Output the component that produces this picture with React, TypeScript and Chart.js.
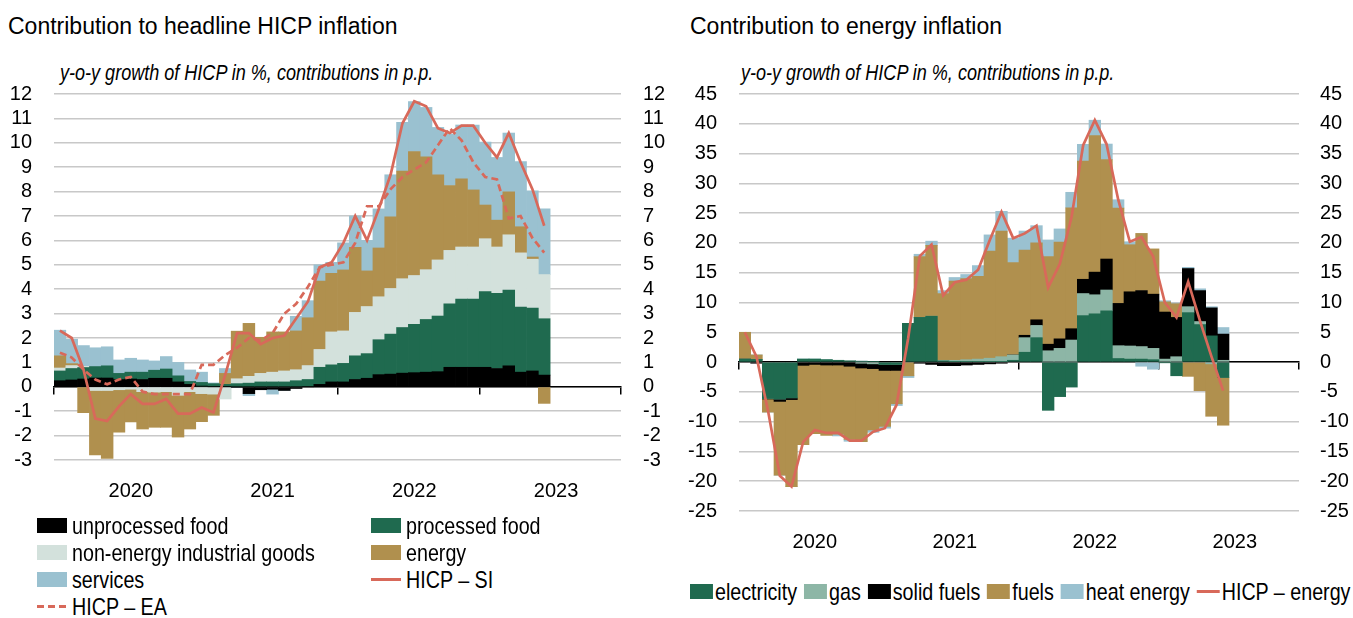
import React, { useEffect, useRef } from 'react';
import { Chart, registerables } from 'chart.js';

Chart.register(...registerables);

const REGULAR = "'Liberation Sans', Arial, Helvetica, sans-serif";
Chart.defaults.font.family = REGULAR;

// ---------- categories & tick labels ----------
const years = ['2020', '2021', '2022', '2023'];
const monthNames = ['Jan', 'Feb', 'Mar', 'Apr', 'May', 'Jun', 'Jul', 'Aug', 'Sep', 'Oct', 'Nov', 'Dec'];
const categories = years.flatMap((y) => monthNames.map((m) => `${m} ${y}`));
const yearTickLabels = years;

// ---------- left panel: contributions to headline HICP (p.p.) ----------
const unprocessedFood = [0.25, 0.28, 0.32, 0.36, 0.36, 0.3, 0.32, 0.3, 0.35, 0.35, 0.2, 0.1, 0.03, 0.0, 0.0, -0.03, -0.28, -0.12, -0.1, -0.15, -0.07, 0.0, 0.1, 0.2, 0.2, 0.3, 0.35, 0.5, 0.52, 0.56, 0.58, 0.6, 0.62, 0.8, 0.8, 0.8, 0.8, 0.75, 0.86, 0.6, 0.65, 0.48];
const processedFood = [0.4, 0.47, 0.47, 0.47, 0.5, 0.25, 0.28, 0.3, 0.33, 0.38, 0.25, 0.12, 0.15, 0.13, 0.1, 0.13, 0.15, 0.2, 0.2, 0.2, 0.25, 0.3, 0.7, 0.7, 0.76, 0.97, 1.01, 1.43, 1.64, 1.87, 1.98, 2.16, 2.28, 2.6, 2.79, 2.79, 3.1, 3.08, 3.1, 2.67, 2.58, 2.31];
const nonEnergyIndustrialGoods = [0.12, 0.12, 0.05, -0.15, -0.15, -0.12, -0.1, -0.2, -0.22, -0.2, -0.35, -0.2, -0.28, -0.3, -0.5, 0.2, 0.28, 0.35, 0.4, 0.45, 0.45, 0.57, 0.73, 1.35, 1.33, 1.78, 1.93, 1.76, 1.87, 2.0, 2.0, 2.04, 2.3, 2.19, 2.14, 2.14, 2.17, 1.9, 2.27, 2.22, 2.0, 1.81];
const energy = [0.5, 0.08, -1.06, -2.64, -2.79, -1.74, -1.34, -1.53, -1.44, -1.46, -1.71, -1.53, -1.15, -0.87, 0.45, 1.95, 2.17, 1.48, 1.65, 1.6, 1.59, 1.96, 2.8, 2.4, 2.5, 2.67, 1.46, 2.0, 2.94, 4.41, 5.08, 4.63, 3.49, 2.66, 2.79, 2.34, 1.38, 1.1, 1.76, 1.07, 0.09, -0.68];
const services = [1.05, 1.0, 0.85, 0.77, 0.78, 0.55, 0.57, 0.5, 0.38, 0.51, 0.55, 0.47, 0.42, 0.03, 0.2, 0.0, -0.08, 0.0, -0.2, 0.0, 0.6, 0.7, 0.67, 0.45, 1.11, 1.28, 1.25, 1.6, 1.72, 2.0, 2.05, 2.02, 1.94, 2.11, 2.21, 2.66, 2.58, 2.57, 2.41, 2.67, 2.71, 2.69];
const hicpSI = [2.3, 2.0, 0.7, -1.3, -1.4, -0.8, -0.3, -0.7, -0.7, -0.5, -1.1, -1.1, -0.85, -1.05, 0.5, 2.2, 2.2, 1.75, 2.0, 2.1, 2.8, 3.5, 4.9, 5.1, 5.9, 7.0, 6.0, 7.3, 8.7, 10.8, 11.7, 11.5, 10.6, 10.4, 10.7, 10.7, 10.0, 9.4, 10.4, 9.2, 8.1, 6.6];
const hicpEA = [1.4, 1.2, 0.7, 0.3, 0.1, 0.3, 0.4, -0.2, -0.3, -0.3, -0.3, -0.3, 0.9, 0.9, 1.3, 1.6, 2.0, 1.9, 2.2, 3.0, 3.4, 4.1, 4.9, 5.0, 5.1, 5.9, 7.4, 7.4, 8.1, 8.6, 8.9, 9.2, 9.9, 10.6, 10.1, 9.2, 8.6, 8.5, 6.9, 7.0, 6.1, 5.5];

// ---------- right panel: contributions to energy inflation (p.p.) ----------
const electricity = [0.5, 0.45, -6.1, -6.2, -6.0, 0.5, 0.5, 0.4, 0.3, 0.2, 0.15, 0.1, -0.4, -0.4, 6.5, 7.5, 7.7, 0.2, 0.1, 0.1, 0.1, 0.1, 0.1, 0.3, 1.65, 4.1, -8.1, -5.8, -4.2, 7.8, 8.1, 8.6, 0.6, 0.5, 0.5, 0.4, -0.1, -2.3, 8.3, 6.3, 4.4, -2.6];
const gas = [0, 0, 0, 0, 0, 0, 0, 0, 0, 0, -0.2, -0.3, 0, 0, 0, 0, 0, 0.1, 0.2, 0.3, 0.4, 0.55, 0.8, 0.9, 2.45, 2.05, 1.9, 2.3, 3.7, 3.7, 3.2, 3.5, 2.15, 2.2, 2.1, 1.9, 0.5, 0.9, 1.0, 0.5, -0.3, 0.3];
const solidFuels = [0, -0.2, -0.1, -0.4, -0.3, -0.55, -0.4, -0.5, -0.5, -0.7, -0.8, -0.8, -1.0, -1.0, 0, -0.2, -0.4, -0.6, -0.6, -0.5, -0.4, -0.3, -0.2, 0, 0.4, 0.95, 1.1, 1.6, 1.9, 2.4, 3.8, 5.2, 7.1, 9.1, 9.4, 9.1, 7.9, 6.6, 6.4, 5.2, 4.7, 4.4];
const fuels = [4.5, 0.75, -2.2, -12.4, -14.6, -13.3, -11.6, -11.8, -11.6, -12.3, -12.35, -10.3, -9.4, -5.6, -2.3, 10.2, 11.9, 11.2, 13.3, 13.6, 13.9, 18.0, 21.1, 15.5, 14.3, 12.9, 14.7, 16.25, 20.3, 19.85, 22.9, 16.7, 16.0, 7.9, 9.6, 7.6, 1.7, 2.3, -2.4, -4.8, -8.8, -8.0];
const heatEnergy = [0, 0, 0, 0, 0, 0, 0, 0, -0.3, -0.3, 0, -0.4, -0.3, -0.3, -0.3, 0.4, 0.7, 0.5, 0.6, 0.7, 1.8, 2.7, 3.3, 4.1, 3.2, 2.9, 2.8, 2.2, 2.6, 2.8, 2.6, 2.6, 1.4, 0.5, -0.7, -1.2, 0.2, 0.1, 0.2, 0.3, 0.2, 1.1];
const hicpEnergy = [5.0, 0.9, -8.3, -19.1, -20.9, -13.4, -11.4, -11.9, -11.9, -13.2, -13.2, -11.7, -11.1, -7.2, 4.0, 17.8, 19.7, 11.2, 13.4, 13.8, 15.5, 20.5, 25.2, 20.8, 21.6, 22.9, 12.5, 16.5, 24.3, 36.4, 40.6, 36.6, 27.3, 20.2, 21.0, 17.7, 10.0, 7.5, 13.5, 7.0, 0.9, -4.8];

// ---------- colours ----------
const C_BLACK = '#000000';
const C_GREEN = '#1f6a4f';
const C_LIGHTGREY = '#d3e1dc';
const C_TAN = '#b0904e';
const C_BLUE = '#9ac1d0';
const C_GAS = '#8db6a6';
const C_LINE = '#d8695a';
const C_GRID = '#c8c8c8';

type BarSpec = { label: string; data: number[]; color: string };
type LineSpec = { label: string; data: number[]; dash: boolean; stack: string };

function buildConfig(
  bars: BarSpec[],
  lines: LineSpec[],
  yMin: number,
  yMax: number,
  yStep: number,
  leftW: number,
  rightW: number,
  rightPad: number
): any {
  const tickFont = { size: 20, family: REGULAR };
  return {
    type: 'bar',
    data: {
      labels: categories,
      datasets: [
        ...lines.map((l) => ({
          type: 'line',
          label: l.label,
          data: l.data,
          borderColor: C_LINE,
          backgroundColor: C_LINE,
          borderWidth: 2.7,
          borderDash: l.dash ? [7, 4] : [],
          pointRadius: 0,
          pointHoverRadius: 0,
          tension: 0,
          fill: false,
          stack: l.stack,
          order: -1,
        })),
        ...bars.map((b) => ({
          type: 'bar',
          label: b.label,
          data: b.data,
          backgroundColor: b.color,
          borderWidth: 0,
          barPercentage: 1,
          categoryPercentage: 1,
          stack: 'contrib',
        })),
      ],
    },
    options: {
      responsive: false,
      animation: false,
      devicePixelRatio: 1,
      layout: { padding: { top: 26, left: 0, right: 0, bottom: 24 } },
      plugins: { legend: { display: false }, tooltip: { enabled: false }, title: { display: false } },
      scales: {
        x: {
          type: 'category',
          stacked: true,
          offset: true,
          grid: { display: false, offset: true, drawTicks: false },
          border: { display: false },
          ticks: {
            autoSkip: false,
            maxRotation: 0,
            minRotation: 0,
            padding: 19,
            color: '#000',
            font: tickFont,
            callback: (_v: any, i: number) => (i % 12 === 6 ? yearTickLabels[Math.floor(i / 12)] : ''),
          },
          afterFit: (s: any) => {
            s.height = 40;
          },
        },
        xZero: {
          type: 'category',
          position: { y: 0 },
          offset: true,
          grid: {
            display: true,
            drawOnChartArea: false,
            drawTicks: true,
            tickLength: 7,
            offset: true,
            lineWidth: 1.5,
            color: (ctx: any) => (ctx.type !== 'tick' || ctx.index % 12 === 0 ? '#000' : 'rgba(0,0,0,0)'),
          },
          border: { display: true, color: '#000', width: 1.5 },
          ticks: { display: false },
        },
        y: {
          type: 'linear',
          position: 'left',
          stacked: true,
          min: yMin,
          max: yMax,
          ticks: { stepSize: yStep, autoSkip: false, padding: 22, color: '#000', font: tickFont },
          grid: { color: C_GRID, lineWidth: 1.5, drawTicks: false },
          border: { display: false },
          afterFit: (s: any) => {
            s.width = leftW;
          },
        },
        y2: {
          type: 'linear',
          position: 'right',
          min: yMin,
          max: yMax,
          ticks: { stepSize: yStep, autoSkip: false, padding: rightPad, color: '#000', font: tickFont },
          grid: { display: false, drawTicks: false },
          border: { display: false },
          afterFit: (s: any) => {
            s.width = rightW;
          },
        },
      },
    },
  };
}

function ChartCanvas(props: { make: () => any; left: number; top: number; width: number; height: number }) {
  const ref = useRef<HTMLCanvasElement>(null);
  useEffect(() => {
    const chart = new Chart(ref.current as HTMLCanvasElement, props.make());
    return () => chart.destroy();
  }, []);
  return (
    <canvas
      ref={ref}
      width={props.width}
      height={props.height}
      style={{ position: 'absolute', left: props.left, top: props.top, width: props.width, height: props.height }}
    />
  );
}

const SX = 0.82; // horizontal condensing to mimic a narrow typeface

function Swatch({ color, w, h }: { color: string; w: number; h: number }) {
  return <span style={{ display: 'inline-block', width: w, height: h, background: color, flex: 'none' }} />;
}

function LineSwatch({ dashed, w }: { dashed: boolean; w: number }) {
  return (
    <span
      style={{
        display: 'inline-block',
        width: w,
        height: 3,
        flex: 'none',
        background: dashed
          ? `repeating-linear-gradient(to right, ${C_LINE} 0px, ${C_LINE} 7px, transparent 7px, transparent 11px)`
          : C_LINE,
      }}
    />
  );
}

const legendText: React.CSSProperties = {
  fontFamily: REGULAR,
  fontSize: 24,
  color: '#000',
  whiteSpace: 'nowrap',
  lineHeight: '27px',
  display: 'inline-block',
  transform: `scaleX(${SX})`,
  transformOrigin: 'left center',
};

function LeftLegendItem({ children, text, left, top }: { children: React.ReactNode; text: string; left: number; top: number }) {
  return (
    <div style={{ position: 'absolute', left, top, height: 27, display: 'flex', alignItems: 'center', gap: 5 }}>
      {children}
      <span style={legendText}>{text}</span>
    </div>
  );
}

const titleStyle: React.CSSProperties = { position: 'absolute', fontFamily: REGULAR, fontSize: 23, lineHeight: '23px', color: '#000', whiteSpace: 'nowrap' };
const subStyle: React.CSSProperties = {
  position: 'absolute',
  fontFamily: REGULAR,
  fontStyle: 'italic',
  fontSize: 22,
  lineHeight: '22px',
  color: '#000',
  whiteSpace: 'nowrap',
  transform: `scaleX(${SX})`,
  transformOrigin: 'left center',
};

export default function App() {
  const makeLeft = () =>
    buildConfig(
      [
        { label: 'unprocessed food', data: unprocessedFood, color: C_BLACK },
        { label: 'processed food', data: processedFood, color: C_GREEN },
        { label: 'non-energy industrial goods', data: nonEnergyIndustrialGoods, color: C_LIGHTGREY },
        { label: 'energy', data: energy, color: C_TAN },
        { label: 'services', data: services, color: C_BLUE },
      ],
      [
        { label: 'HICP – SI', data: hicpSI, dash: false, stack: 'si' },
        { label: 'HICP – EA', data: hicpEA, dash: true, stack: 'ea' },
      ],
      -3,
      12,
      1,
      54,
      55,
      22
    );
  const makeRight = () =>
    buildConfig(
      [
        { label: 'electricity', data: electricity, color: C_GREEN },
        { label: 'gas', data: gas, color: C_GAS },
        { label: 'solid fuels', data: solidFuels, color: C_BLACK },
        { label: 'fuels', data: fuels, color: C_TAN },
        { label: 'heat energy', data: heatEnergy, color: C_BLUE },
      ],
      [{ label: 'HICP – energy', data: hicpEnergy, dash: false, stack: 'en' }],
      -25,
      45,
      5,
      59,
      54,
      21
    );

  const rightItems: { label: string; color?: string }[] = [
    { label: 'electricity', color: C_GREEN },
    { label: 'gas', color: C_GAS },
    { label: 'solid fuels', color: C_BLACK },
    { label: 'fuels', color: C_TAN },
    { label: 'heat energy', color: C_BLUE },
    { label: 'HICP – energy' },
  ];

  return (
    <div style={{ position: 'absolute', left: 0, top: 0, width: 1353, height: 618, background: '#fff', overflow: 'hidden' }}>
      <div style={{ ...titleStyle, left: 8, top: 15 }}>Contribution to headline HICP inflation</div>
      <div style={{ ...titleStyle, left: 690, top: 15 }}>Contribution to energy inflation</div>
      <div style={{ ...subStyle, left: 60, top: 62 }}>y-o-y growth of HICP in %, contributions in p.p.</div>
      <div style={{ ...subStyle, left: 741, top: 62 }}>y-o-y growth of HICP in %, contributions in p.p.</div>

      <ChartCanvas make={makeLeft} left={0} top={60} width={676} height={464} />
      <ChartCanvas make={makeRight} left={680} top={60} width={673} height={515} />

      <LeftLegendItem text="unprocessed food" left={37} top={512}>
        <Swatch color={C_BLACK} w={30} h={15} />
      </LeftLegendItem>
      <LeftLegendItem text="processed food" left={371} top={512}>
        <Swatch color={C_GREEN} w={30} h={15} />
      </LeftLegendItem>
      <LeftLegendItem text="non-energy industrial goods" left={37} top={539}>
        <Swatch color={C_LIGHTGREY} w={30} h={15} />
      </LeftLegendItem>
      <LeftLegendItem text="energy" left={371} top={539}>
        <Swatch color={C_TAN} w={30} h={15} />
      </LeftLegendItem>
      <LeftLegendItem text="services" left={37} top={566}>
        <Swatch color={C_BLUE} w={30} h={15} />
      </LeftLegendItem>
      <LeftLegendItem text="HICP – SI" left={371} top={566}>
        <LineSwatch dashed={false} w={30} />
      </LeftLegendItem>
      <LeftLegendItem text="HICP – EA" left={37} top={593}>
        <LineSwatch dashed={true} w={30} />
      </LeftLegendItem>

      <div
        style={{
          position: 'absolute',
          left: 690,
          top: 578,
          height: 27,
          display: 'flex',
          alignItems: 'center',
          transform: `scaleX(${SX})`,
          transformOrigin: 'left center',
          whiteSpace: 'nowrap',
        }}
      >
        {rightItems.map((it) => (
          <div key={it.label} style={{ display: 'flex', alignItems: 'center', gap: 2.5, marginRight: 8.5 }}>
            {it.color ? <Swatch color={it.color} w={28} h={15} /> : <LineSwatch dashed={false} w={28} />}
            <span style={{ fontFamily: REGULAR, fontSize: 24, lineHeight: '27px', color: '#000' }}>{it.label}</span>
          </div>
        ))}
      </div>
    </div>
  );
}
